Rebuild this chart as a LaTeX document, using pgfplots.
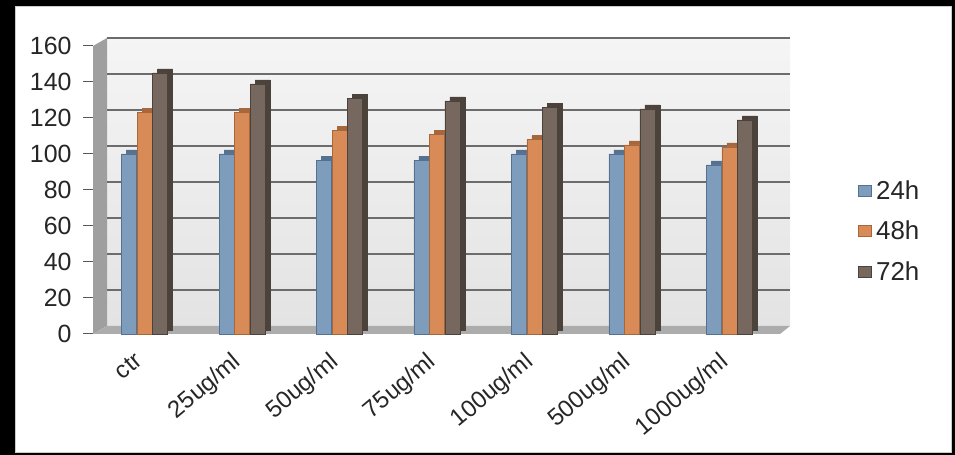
\documentclass[border=0pt]{standalone}
\usepackage{pgfplots}
\usepackage{pgfplotstable}
\pgfplotsset{compat=1.18}
\usepackage{fontspec}
\setmainfont{Liberation Sans}
\definecolor{cblue}{HTML}{7E9DBC}
\definecolor{cblueD}{HTML}{56718F}
\definecolor{corange}{HTML}{D98B57}
\definecolor{corangeD}{HTML}{A6673D}
\definecolor{cbrown}{HTML}{76685E}
\definecolor{cbrownD}{HTML}{4B423B}
\pgfplotstableread{
x v24 v48 v72
0 100 123 145
1 100 123 139
2 96.5 113 131
3 96.5 111 129.5
4 100 108 126
5 100 105 125
6 94 104 119
}\data
\begin{document}
\begin{tikzpicture}
\useasboundingbox (0bp,0bp) rectangle (955bp,455bp);
\fill[black] (0bp,0bp) rectangle (955bp,455bp);
\fill[white] (15bp,3bp) rectangle (951bp,449bp);
\draw[gray!40] (15bp,3bp) rectangle (951bp,449bp);
\begin{axis}[
  at={(93bp,121bp)}, anchor=south west, scale only axis,
  width=687bp, height=288bp,
  xmin=-0.53, xmax=6.52, ymin=0, ymax=160,
  ytick={0,20,...,160},
  xtick={0,...,6},
  xticklabels={ctr,25ug/ml,50ug/ml,75ug/ml,100ug/ml,500ug/ml,1000ug/ml},
  clip=false, axis line style={draw=none},
  tick align=outside, ytick pos=left, xtick pos=bottom,
  major tick length=10bp,
  ytick style={draw=gray!70!black, line width=1bp},
  xtick style={draw=none},
  /pgf/number format/assume math mode=true,
  tick label style={font=\fontsize{25}{29}\selectfont, text=black!85},
  yticklabel style={xshift=-8bp},
  xticklabel style={font=\fontsize{24}{28}\selectfont, rotate=40, anchor=north east, inner sep=0pt, yshift=2bp, xshift=-13bp},
  legend style={at={(1.113,0.357)}, anchor=west, draw=none, fill=none,
    font=\fontsize{26}{30}\selectfont, text=black!85, row sep=18bp, inner sep=0pt,
    nodes={inner sep=1bp}},
  legend cell align=left,
]
% walls
\shade[top color=gray!8, bottom color=gray!22] ([shift={(14bp,8bp)}]rel axis cs:0,0) rectangle ([shift={(10bp,8bp)}]rel axis cs:1,1);
\fill[gray!75] (rel axis cs:0,0) -- ([shift={(14bp,8bp)}]rel axis cs:0,0) -- ([shift={(14bp,8bp)}]rel axis cs:0,1) -- (rel axis cs:0,1) -- cycle;
\fill[gray!65] (rel axis cs:0,0) -- ([shift={(14bp,8bp)}]rel axis cs:0,0) -- ([shift={(10bp,8bp)}]rel axis cs:1,0) -- (rel axis cs:1,0) -- cycle;
\pgfplotsinvokeforeach{20,40,...,160}{
  \draw[gray!85!black, line width=1.4bp] ([shift={(14bp,8bp)}]axis cs:-0.53,#1) -- ([shift={(10bp,8bp)}]axis cs:6.52,#1);
}
% shadow (side/top) faces
\addplot[ybar, bar width=15bp, bar shift=-10.5bp, yshift=4bp, fill=cblueD, draw=cblueD, forget plot] table[x=x,y=v24]{\data};
\addplot[ybar, bar width=15bp, bar shift=5bp, yshift=4bp, fill=corangeD, draw=corangeD, forget plot] table[x=x,y=v48]{\data};
\addplot[ybar, bar width=15bp, bar shift=20.5bp, yshift=4bp, fill=cbrownD, draw=cbrownD, forget plot] table[x=x,y=v72]{\data};
% front faces
\addplot[ybar, bar width=15bp, bar shift=-15.5bp, fill=cblue, draw=cblueD, line width=0.4bp,
  legend image code/.code={\draw[fill=cblue, draw=cblueD] (0bp,-5.5bp) rectangle (13bp,5.5bp);\path[draw=none,fill=none] (17bp,0bp) circle (0.1bp);}] table[x=x,y=v24]{\data};
\addplot[ybar, bar width=15bp, bar shift=0bp, fill=corange, draw=corangeD, line width=0.4bp,
  legend image code/.code={\draw[fill=corange, draw=corangeD] (0bp,-5.5bp) rectangle (13bp,5.5bp);\path[draw=none,fill=none] (17bp,0bp) circle (0.1bp);}] table[x=x,y=v48]{\data};
\addplot[ybar, bar width=15bp, bar shift=15.5bp, fill=cbrown, draw=cbrownD, line width=0.4bp,
  legend image code/.code={\draw[fill=cbrown, draw=cbrownD] (0bp,-5.5bp) rectangle (13bp,5.5bp);\path[draw=none,fill=none] (17bp,0bp) circle (0.1bp);}] table[x=x,y=v72]{\data};
\legend{24h,48h,72h}
\end{axis}
\end{tikzpicture}
\end{document}
